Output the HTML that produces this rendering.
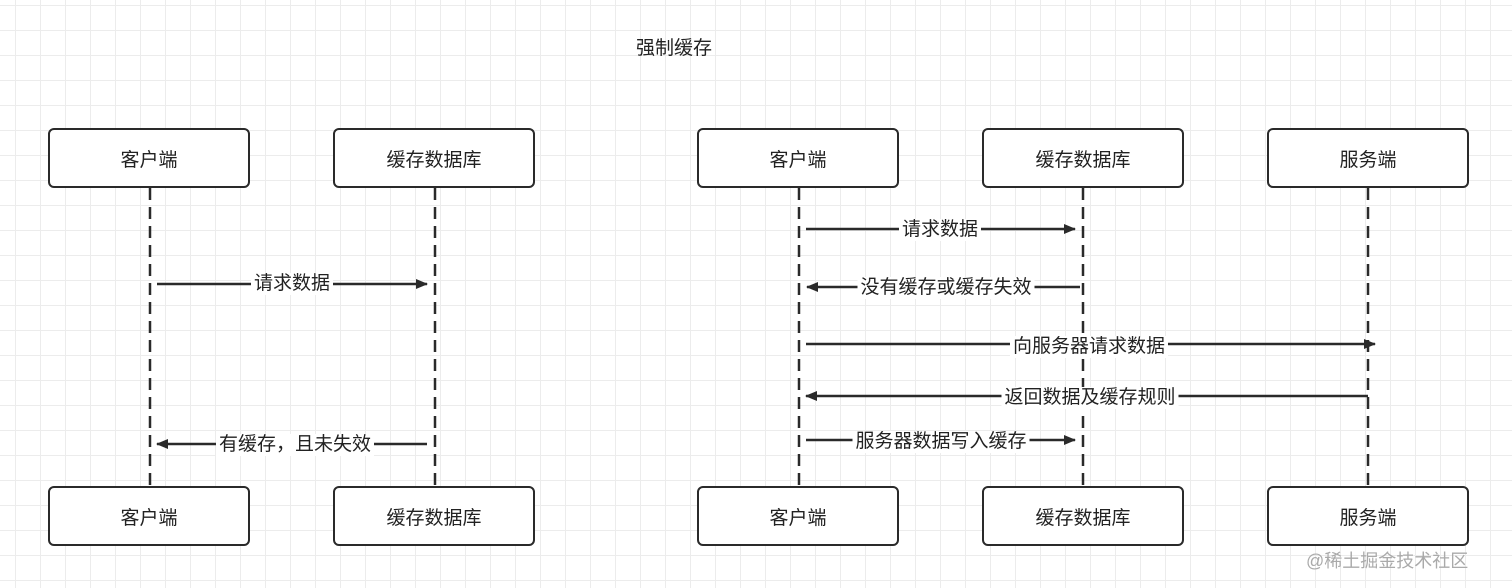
<!DOCTYPE html>
<html><head><meta charset="utf-8"><style>
html,body{margin:0;padding:0}
body{width:1512px;height:588px;position:relative;overflow:hidden;background-color:#fff;
background-image:linear-gradient(#ececec 1px,transparent 1px),linear-gradient(90deg,#ececec 1px,transparent 1px);
background-size:25px 25px;background-position:15px 5px;font-family:"Liberation Sans","Noto Sans CJK SC",sans-serif;color:#222}
.box{position:absolute;width:198px;height:56px;border:2.5px solid #2a2a2a;border-radius:6px;background:#fff;display:flex;align-items:center;justify-content:center;font-size:19px;box-sizing:content-box}
svg{position:absolute;left:0;top:0}
.lbl{position:absolute;font-size:19px;background:#fff;padding:0 3px;transform:translate(-50%,-50%);white-space:nowrap;line-height:22px}
</style></head><body>
<svg width="1512" height="588">
<defs><marker id="a" markerWidth="12" markerHeight="10" refX="11" refY="5" orient="auto" markerUnits="userSpaceOnUse"><path d="M0,0 L12,5 L0,10 z" fill="#2a2a2a"/></marker></defs>
<g stroke="#2a2a2a" stroke-width="2.5" stroke-dasharray="12,7">
<line x1="150" y1="188" x2="150" y2="486"/><line x1="435" y1="188" x2="435" y2="486"/>
<line x1="799" y1="188" x2="799" y2="486"/><line x1="1083" y1="188" x2="1083" y2="486"/><line x1="1368" y1="188" x2="1368" y2="486"/>
</g>
<g stroke="#2a2a2a" stroke-width="2.5" marker-end="url(#a)">
<line x1="157" y1="284" x2="427" y2="284"/>
<line x1="427" y1="444" x2="157" y2="444"/>
<line x1="806" y1="229" x2="1075" y2="229"/>
<line x1="1080" y1="287" x2="807" y2="287"/>
<line x1="806" y1="344" x2="1375" y2="344"/>
<line x1="1368" y1="396" x2="806" y2="396"/>
<line x1="806" y1="440" x2="1075" y2="440"/>
</g>
</svg>
<div style="position:absolute;left:636px;top:33px;font-size:19px">强制缓存</div>
<div class="box" style="left:48px;top:128px">客户端</div>
<div class="box" style="left:333px;top:128px">缓存数据库</div>
<div class="box" style="left:697px;top:128px">客户端</div>
<div class="box" style="left:982px;top:128px">缓存数据库</div>
<div class="box" style="left:1267px;top:128px">服务端</div>
<div class="box" style="left:48px;top:486px">客户端</div>
<div class="box" style="left:333px;top:486px">缓存数据库</div>
<div class="box" style="left:697px;top:486px">客户端</div>
<div class="box" style="left:982px;top:486px">缓存数据库</div>
<div class="box" style="left:1267px;top:486px">服务端</div>
<div class="lbl" style="left:292px;top:284px">请求数据</div>
<div class="lbl" style="left:295px;top:445px">有缓存，且未失效</div>
<div class="lbl" style="left:940px;top:230px">请求数据</div>
<div class="lbl" style="left:946px;top:288px">没有缓存或缓存失效</div>
<div class="lbl" style="left:1089px;top:347px">向服务器请求数据</div>
<div class="lbl" style="left:1090px;top:398px">返回数据及缓存规则</div>
<div class="lbl" style="left:941px;top:442px">服务器数据写入缓存</div>
<div style="position:absolute;left:1306px;top:547px;font-size:18px;color:#aaa">@稀土掘金技术社区</div>
</body></html>
